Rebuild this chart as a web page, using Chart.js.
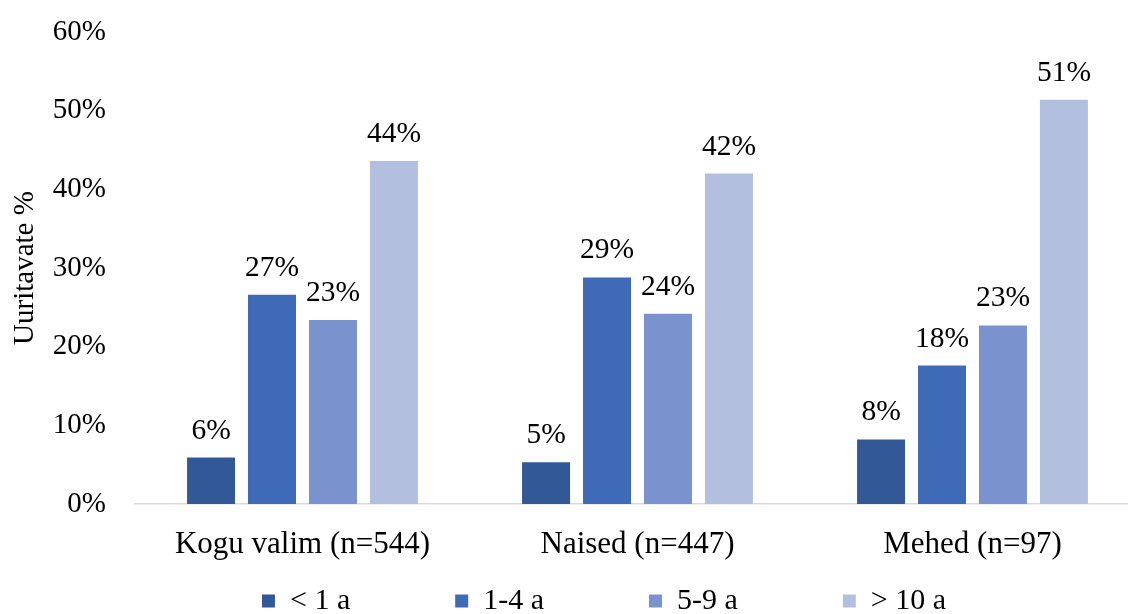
<!DOCTYPE html>
<html>
<head>
<meta charset="utf-8">
<script src="https://cdn.jsdelivr.net/npm/chart.js@4/dist/chart.umd.min.js"></script>
<style>
  html, body { margin: 0; padding: 0; background: #fff; overflow: hidden; }
  #wrap { width: 1128px; height: 614px; overflow: hidden; }
</style>
</head>
<body>
<div id="wrap"><canvas id="chart" width="1208" height="614"></canvas></div>
<script>
// ----------------------------- Data -----------------------------------------
const categories = ["Kogu valim (n=544)", "Naised (n=447)", "Mehed (n=97)"];
const seriesNames = ["< 1 a", "1-4 a", "5-9 a", "> 10 a"];
const lessThan1 = [5.9, 5.3, 8.2];
const from1to4 = [26.6, 28.8, 17.6];
const from5to9 = [23.4, 24.2, 22.7];
const over10 = [43.6, 42.0, 51.4];
const yTicks = [0, 10, 20, 30, 40, 50, 60];

const colors = ["#325897", "#3F6AB7", "#7A93CF", "#B3BFDF"];
const FONT = "'Liberation Serif', 'Times New Roman', serif";

// ----------------------------- Plugins --------------------------------------
// value labels above each bar
const barLabels = {
    id: "barLabels",
    afterDatasetsDraw(chart) {
        const ctx = chart.ctx;
        ctx.save();
        ctx.font = "29.5px " + FONT;
        ctx.fillStyle = "#000";
        ctx.textAlign = "center";
        ctx.textBaseline = "alphabetic";
        chart.data.datasets.forEach((ds, i) => {
            chart.getDatasetMeta(i).data.forEach((bar, j) => {
                ctx.fillText(Math.round(ds.data[j]) + "%", bar.x, bar.y - 19);
            });
        });
        ctx.restore();
    },
};

// wide gaps between legend items without a tall legend box
const legendSpacing = {
    id: "legendSpacing",
    afterInit(chart) {
        const lg = chart.legend;
        const fit = lg.fit;
        lg.fit = function () {
            fit.call(this);
            this.height = 52;
        };
        const draw = lg.draw;
        lg.draw = function () {
            const p = this.options.labels.padding;
            const top = this.top;
            this.top = top - p + 24;
            draw.call(this);
            this.top = top;
        };
    },
};

// ----------------------------- Chart ----------------------------------------
const seriesData = [lessThan1, from1to4, from5to9, over10];

new Chart(document.getElementById("chart"), {
    type: "bar",
    data: {
        labels: categories,
        datasets: seriesNames.map((name, i) => ({
            label: name,
            data: seriesData[i],
            backgroundColor: colors[i],
            borderWidth: 0,
            categoryPercentage: 0.728,
            barPercentage: 0.787,
        })),
    },
    options: {
        responsive: false,
        animation: false,
        devicePixelRatio: 1,
        layout: { padding: { top: 32, left: 0, right: 0, bottom: 0 } },
        plugins: {
            tooltip: { enabled: false },
            legend: {
                position: "bottom",
                labels: {
                    color: "#000",
                    font: { family: FONT, size: 30 },
                    boxWidth: 13,
                    boxHeight: 13,
                    padding: 105,
                },
            },
        },
        scales: {
            x: {
                grid: { display: false, drawTicks: false },
                border: { display: true, color: "#D9D9D9", width: 1.5 },
                ticks: {
                    color: "#000",
                    font: { family: FONT, size: 31 },
                    padding: 22,
                    maxRotation: 0,
                },
                afterFit(s) { s.height = 58; },
            },
            y: {
                min: 0,
                max: 60,
                afterBuildTicks(s) { s.ticks = yTicks.map((v) => ({ value: v })); },
                grid: { display: false, drawTicks: false },
                border: { display: false },
                ticks: {
                    color: "#000",
                    font: { family: FONT, size: 29 },
                    padding: 29,
                    callback: (v) => v + "%",
                },
                title: {
                    display: true,
                    text: "Uuritavate %",
                    color: "#000",
                    font: { family: FONT, size: 29 },
                    padding: { top: 8, bottom: 0 },
                },
                afterFit(s) {
                    s.width = 135;
                    s.paddingTop = 0;
                    s.paddingBottom = 0;
                },
            },
            spare: {
                type: "linear",
                position: "right",
                display: true,
                grid: { display: false, drawTicks: false },
                border: { display: false },
                ticks: { display: false },
                afterFit(s) { s.width = 68; },
            },
        },
    },
    plugins: [barLabels, legendSpacing],
});
</script>
</body>
</html>
